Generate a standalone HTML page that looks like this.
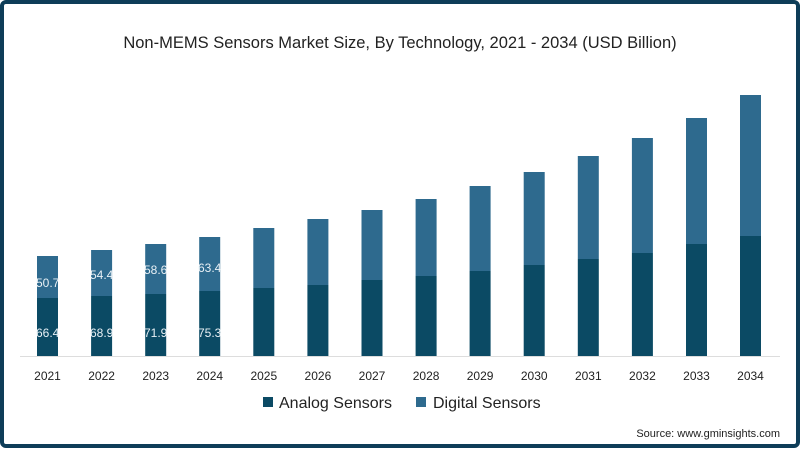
<!DOCTYPE html>
<html><head><meta charset="utf-8"><style>
html,body{margin:0;padding:0;background:#fff;}
svg{display:block;font-family:"Liberation Sans",sans-serif;}
</style></head><body>
<svg width="800" height="450" viewBox="0 0 800 450" xmlns="http://www.w3.org/2000/svg">
<rect x="2" y="2" width="796" height="444" rx="4" fill="#fff" stroke="#0e3d58" stroke-width="4"/>
<text x="400" y="48" text-anchor="middle" font-size="16.5" fill="#222">Non-MEMS Sensors Market Size, By Technology, 2021 - 2034 (USD Billion)</text>
<line x1="20" y1="356.5" x2="780" y2="356.5" stroke="#ddd" stroke-width="1"/>
<g fill="#2e6a8e">
<rect x="37" y="256" width="21" height="42"/>
<rect x="91.1" y="250" width="21" height="46"/>
<rect x="145.2" y="244" width="21" height="50"/>
<rect x="199.2" y="237" width="21" height="54"/>
<rect x="253.3" y="228" width="21" height="60"/>
<rect x="307.4" y="219" width="21" height="66"/>
<rect x="361.5" y="210" width="21" height="70"/>
<rect x="415.6" y="199" width="21" height="77"/>
<rect x="469.6" y="186" width="21" height="85"/>
<rect x="523.7" y="172" width="21" height="93"/>
<rect x="577.8" y="156" width="21" height="103"/>
<rect x="631.9" y="138" width="21" height="115"/>
<rect x="686" y="118" width="21" height="126"/>
<rect x="740" y="95" width="21" height="141"/>
</g>
<g fill="#0b4a64">
<rect x="37" y="298" width="21" height="58"/>
<rect x="91.1" y="296" width="21" height="60"/>
<rect x="145.2" y="294" width="21" height="62"/>
<rect x="199.2" y="291" width="21" height="65"/>
<rect x="253.3" y="288" width="21" height="68"/>
<rect x="307.4" y="285" width="21" height="71"/>
<rect x="361.5" y="280" width="21" height="76"/>
<rect x="415.6" y="276" width="21" height="80"/>
<rect x="469.6" y="271" width="21" height="85"/>
<rect x="523.7" y="265" width="21" height="91"/>
<rect x="577.8" y="259" width="21" height="97"/>
<rect x="631.9" y="253" width="21" height="103"/>
<rect x="686" y="244" width="21" height="112"/>
<rect x="740" y="236" width="21" height="120"/>
</g>
<g font-size="12" fill="#222" text-anchor="middle">
<text x="47.5" y="380">2021</text>
<text x="101.6" y="380">2022</text>
<text x="155.7" y="380">2023</text>
<text x="209.7" y="380">2024</text>
<text x="263.8" y="380">2025</text>
<text x="317.9" y="380">2026</text>
<text x="372" y="380">2027</text>
<text x="426.1" y="380">2028</text>
<text x="480.1" y="380">2029</text>
<text x="534.2" y="380">2030</text>
<text x="588.3" y="380">2031</text>
<text x="642.4" y="380">2032</text>
<text x="696.5" y="380">2033</text>
<text x="750.5" y="380">2034</text>
</g>
<g font-size="12" fill="#e8f0f5">
<text x="36" y="287">50.7</text>
<text x="90" y="279">54.4</text>
<text x="144" y="274">58.6</text>
<text x="198" y="272">63.4</text>
<text x="36" y="337">66.4</text>
<text x="90" y="337">68.9</text>
<text x="144" y="337">71.9</text>
<text x="198" y="337">75.3</text>
</g>
<rect x="263" y="397" width="10" height="10" fill="#0b4a64"/>
<text x="279" y="408" font-size="16" fill="#222">Analog Sensors</text>
<rect x="416" y="397" width="10" height="10" fill="#2e6a8e"/>
<text x="433" y="408" font-size="16" fill="#222">Digital Sensors</text>
<text x="780" y="437" text-anchor="end" font-size="11" fill="#222">Source: www.gminsights.com</text>
</svg>
</body></html>
